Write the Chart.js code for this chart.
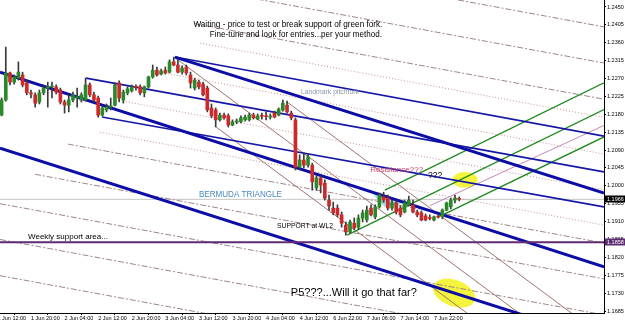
<!DOCTYPE html>
<html><head><meta charset="utf-8">
<style>html,body{margin:0;padding:0;background:#fff;overflow:hidden}canvas{display:block}</style>
<script src="https://cdn.jsdelivr.net/npm/chart.js@4/dist/chart.umd.min.js"></script>
</head><body>
<canvas id="c" width="625" height="322"></canvas>
<script>
// ---- DATA (EURUSD H1, 1 Jun - 7 Jun) ----
const xTickLabels = ['1 Jun 12:00','1 Jun 20:00','2 Jun 04:00','2 Jun 12:00','2 Jun 20:00','3 Jun 04:00','3 Jun 12:00','3 Jun 20:00','4 Jun 04:00','4 Jun 12:00','6 Jun 22:00','7 Jun 06:00','7 Jun 14:00','7 Jun 22:00'];
const xTickBars = [0,8,16,24,32,40,48,56,64,72,80,88,96,104];
const yTicks = [1.1685,1.1730,1.1775,1.1820,1.1865,1.1910,1.1955,1.2000,1.2045,1.2090,1.2135,1.2180,1.2225,1.2270,1.2315,1.2360,1.2405,1.2450];

const opens = [1.2178,1.2216,1.2284,1.2261,1.2271,1.2279,1.2259,1.2234,1.2229,1.2211,
 1.2234,1.2246,1.2249,1.2249,1.2241,1.2211,1.2203,1.2216,1.2221,1.2216,
 1.2216,1.2254,1.2229,1.2221,1.2178,1.2191,1.2198,1.2203,1.2259,1.2216,
 1.2234,1.2239,1.2249,1.2249,1.2234,1.2249,1.2274,1.2291,1.2281,1.2291,
 1.2286,1.2312,1.2304,1.2286,1.2299,1.2279,1.2246,1.2261,1.2256,1.2246,
 1.2196,1.2191,1.2166,1.2178,1.2176,1.2153,1.2161,1.2161,1.2166,1.2166,
 1.2178,1.2168,1.2176,1.2176,1.2173,1.2183,1.2178,1.2191,1.2203,1.2183,
 1.2166,1.2047,1.2065,1.2052,1.2052,1.1995,1.2020,1.2007,1.1964,1.1944,
 1.1944,1.1927,1.1901,1.1884,1.1906,1.1896,1.1919,1.1914,1.1944,1.1922,
 1.1947,1.1972,1.1969,1.1944,1.1957,1.1944,1.1934,1.1952,1.1952,1.1934,
 1.1932,1.1924,1.1919,1.1914,1.1922,1.1922,1.1939,1.1947,1.1964,1.1967];
const highs = [1.2221,1.2349,1.2286,1.2279,1.2312,1.2286,1.2266,1.2241,1.2234,1.2241,
 1.2254,1.2261,1.2261,1.2254,1.2246,1.2216,1.2229,1.2236,1.2246,1.2234,
 1.2271,1.2259,1.2236,1.2226,1.2201,1.2206,1.2221,1.2259,1.2264,1.2241,
 1.2249,1.2254,1.2254,1.2254,1.2251,1.2276,1.2304,1.2299,1.2294,1.2299,
 1.2317,1.2324,1.2317,1.2302,1.2304,1.2286,1.2271,1.2266,1.2261,1.2251,
 1.2206,1.2196,1.2183,1.2183,1.2181,1.2166,1.2168,1.2176,1.2178,1.2183,
 1.2183,1.2181,1.2183,1.2186,1.2181,1.2188,1.2196,1.2216,1.2213,1.2188,
 1.2171,1.2078,1.2083,1.2080,1.2057,1.2025,1.2025,1.2015,1.1977,1.1959,
 1.1952,1.1934,1.1909,1.1914,1.1919,1.1927,1.1939,1.1949,1.1952,1.1952,
 1.1982,1.1984,1.1977,1.1964,1.1964,1.1949,1.1964,1.1974,1.1964,1.1939,
 1.1937,1.1929,1.1927,1.1924,1.1927,1.1942,1.1959,1.1969,1.1977,1.1972];
const lows = [1.2176,1.2213,1.2254,1.2256,1.2266,1.2249,1.2229,1.2221,1.2198,1.2206,
 1.2229,1.2198,1.2221,1.2231,1.2206,1.2183,1.2186,1.2211,1.2198,1.2211,
 1.2213,1.2224,1.2211,1.2173,1.2176,1.2186,1.2191,1.2201,1.2211,1.2208,
 1.2229,1.2236,1.2241,1.2229,1.2224,1.2246,1.2271,1.2276,1.2279,1.2281,
 1.2284,1.2302,1.2284,1.2281,1.2279,1.2246,1.2241,1.2244,1.2226,1.2186,
 1.2171,1.2148,1.2163,1.2168,1.2148,1.2151,1.2156,1.2158,1.2163,1.2163,
 1.2168,1.2166,1.2168,1.2166,1.2168,1.2171,1.2176,1.2188,1.2183,1.2166,
 1.2040,1.2040,1.2045,1.2047,1.1989,1.1989,1.1982,1.1964,1.1939,1.1927,
 1.1922,1.1896,1.1876,1.1881,1.1889,1.1891,1.1909,1.1909,1.1924,1.1917,
 1.1944,1.1959,1.1939,1.1939,1.1929,1.1922,1.1932,1.1949,1.1932,1.1922,
 1.1912,1.1912,1.1914,1.1912,1.1919,1.1917,1.1937,1.1942,1.1957,1.1962];
const closes = [1.2216,1.2284,1.2261,1.2274,1.2286,1.2254,1.2234,1.2231,1.2208,1.2234,
 1.2246,1.2249,1.2251,1.2236,1.2211,1.2203,1.2216,1.2229,1.2224,1.2229,
 1.2254,1.2229,1.2216,1.2178,1.2196,1.2198,1.2201,1.2254,1.2221,1.2236,
 1.2244,1.2249,1.2248,1.2234,1.2249,1.2274,1.2291,1.2279,1.2289,1.2284,
 1.2312,1.2304,1.2286,1.2296,1.2284,1.2259,1.2266,1.2249,1.2229,1.2191,
 1.2176,1.2166,1.2178,1.2171,1.2153,1.2161,1.2163,1.2171,1.2173,1.2178,
 1.2171,1.2176,1.2175,1.2174,1.2175,1.2173,1.2193,1.2208,1.2186,1.2171,
 1.2047,1.2065,1.2052,1.2073,1.2010,1.2020,1.2002,1.1969,1.1949,1.1932,
 1.1927,1.1906,1.1884,1.1909,1.1894,1.1919,1.1932,1.1939,1.1927,1.1947,
 1.1977,1.1964,1.1944,1.1957,1.1934,1.1927,1.1957,1.1964,1.1934,1.1927,
 1.1914,1.1914,1.1918,1.1922,1.1921,1.1939,1.1957,1.1964,1.1969,1.1966];

// trend lines: [startBar, startPrice, endBar, endPrice, styleName]
const trendLines = [
 [42.3,1.2324,144.5,1.1982,'thick'],
 [0.62,1.2286,144.5,1.1796,'thick'],
 [0.62,1.2095,144.5,1.1610,'thick'],
 [42.3,1.2324,144.5,1.2125,'blue'],
 [21.1,1.2271,144.5,1.2035,'blue'],
 [24.9,1.2173,144.5,1.1947,'blue'],
 [92.3,1.1989,144.5,1.2259,'green'],
 [83.3,1.1876,144.5,1.2192,'green'],
 [106.1,1.1927,144.5,1.2123,'green'],
 [103.0,1.1950,144.5,1.2152,'mauve'],
 [42.3,1.2599,144.5,1.2400,'dashdot'],
 [42.3,1.2508,144.5,1.2309,'dashdot'],
 [47.0,1.2408,144.5,1.2218,'dashdot'],
 [16.8,1.2105,144.5,1.1856,'dashdot'],
 [8.96,1.2029,144.5,1.1766,'dashdot'],
 [0.62,1.1955,144.5,1.1675,'dashdot'],
 [0.62,1.1865,144.5,1.1584,'dashdot'],
 [0.62,1.1774,144.5,1.1494,'dashdot'],
 [48.3,1.2359,144.5,1.2172,'dotted'],
 [37.1,1.2289,144.5,1.2080,'dotted'],
 [29.9,1.2213,144.5,1.1990,'dotted'],
 [24.4,1.2135,144.5,1.1901,'dotted'],
 [42.1,1.2324,144.5,1.1521,'brown'],
 [52.1,1.2148,144.5,1.1424,'brown'],
 [69.0,1.2211,144.5,1.1619,'brown']
];
const currentPrice = 1.1966;
const weeklySupport = 1.1858;

// ---- STYLES ----
const lineStyles = {
 thick:{color:'#0c0ca6',width:3,dash:[]},
 blue:{color:'#1616a8',width:1.6,dash:[]},
 green:{color:'#1e8a1e',width:1.3,dash:[]},
 mauve:{color:'#c58ab8',width:1,dash:[]},
 dashdot:{color:'#a08585',width:1,dash:[6,2,2,2]},
 dotted:{color:'#c99090',width:1,dash:[1,2]},
 brown:{color:'#a07272',width:1,dash:[]}
};
const X_MIN = 0.62, X_MAX = 144.5, Y_MIN = 1.1680, Y_MAX = 1.24676;

const texts = [
 {t:'Waiting - price to test or break support of green fork.', x:69.2, y:1.2407, align:'center', size:9, color:'#000', w:189},
 {t:'Fine-tune and look for entries...per your method.', x:71.1, y:1.2380, align:'center', size:9, color:'#000', w:172},
 {t:'Landmark pitchfork', x:72.3, y:1.2236, align:'left', size:8, color:'#8a98aa', w:58},
 {t:'Resistance???', x:88.8, y:1.2040, align:'left', size:8, color:'#d0406a', w:58},
 {t:'???', x:102.6, y:1.2025, align:'left', size:9, color:'#000', w:14},
 {t:'BERMUDA TRIANGLE', x:48.0, y:1.1979, align:'left', size:9, color:'#4a88c0', w:83},
 {t:'SUPPORT at WL2', x:66.6, y:1.1899, align:'left', size:8, color:'#000', w:56},
 {t:'Weekly support area...', x:7.3, y:1.1871, align:'left', size:8, color:'#000', w:81},
 {t:'P5???...Will it go that far?', x:69.9, y:1.1730, align:'left', size:11, color:'#000', w:127}
];
const ellipses = [
 {x:111.4, y:1.2015, rx:2.98, ry:0.0020, rot:0},
 {x:108.8, y:1.1730, rx:5.24, ry:0.0033, rot:0.35}
];
const triangle = [[88.8,1.1987],[97.1,1.1957],[92.3,1.1947]];

// ---- BUILD ----
const bodies = [], wicks = [], bodyColors = [];
opens.forEach((o,k)=>{
  bodies.push({x:k+1, y:[o, closes[k]]});
  wicks.push({x:k+1, y:[lows[k], highs[k]]});
  bodyColors.push(closes[k] >= o ? '#2a8a2a' : '#cc2a2a');
});
const datasets = [
 {type:'bar', data:bodies, backgroundColor:bodyColors, barThickness:3, minBarLength:1, grouped:false, order:0},
 {type:'bar', data:wicks, backgroundColor:'#3a3a3a', barThickness:1, grouped:false, order:1}
];
trendLines.forEach(([x1,y1,x2,y2,s])=>{
  const st = lineStyles[s];
  datasets.push({type:'line', data:[{x:x1,y:y1},{x:x2,y:y2}], borderColor:st.color, borderWidth:st.width,
    borderDash:st.dash, pointRadius:0, fill:false, tension:0, clip:0, order:3});
});
datasets.push({type:'line', data:[{x:X_MIN,y:currentPrice},{x:X_MAX,y:currentPrice}], borderColor:'#c4c4c4', borderWidth:1, pointRadius:0, clip:0, order:4});
datasets.push({type:'line', data:[{x:X_MIN,y:weeklySupport},{x:X_MAX,y:weeklySupport}], borderColor:'#5e2b70', borderWidth:2, pointRadius:0, clip:0, order:2});

const annot = {
  id:'annot',
  beforeDatasetsDraw(chart){
    const {ctx, chartArea:a, scales:{x,y}} = chart;
    ctx.save();
    ctx.beginPath(); ctx.rect(a.left,a.top,a.width,a.height); ctx.clip();
    ctx.fillStyle = '#f4f43c';
    ellipses.forEach(e=>{
      const cx=x.getPixelForValue(e.x), cy=y.getPixelForValue(e.y);
      const rx=Math.abs(x.getPixelForValue(e.x+e.rx)-cx), ry=Math.abs(y.getPixelForValue(e.y+e.ry)-cy);
      ctx.beginPath(); ctx.ellipse(cx,cy,rx,ry,e.rot,0,Math.PI*2); ctx.fill();
    });
    ctx.fillStyle = '#a8d4ea';
    ctx.beginPath();
    triangle.forEach(([tx,ty],k)=>{ const px=x.getPixelForValue(tx), py=y.getPixelForValue(ty); k?ctx.lineTo(px,py):ctx.moveTo(px,py); });
    ctx.closePath(); ctx.fill();
    ctx.restore();
  },
  afterDatasetsDraw(chart){
    const {ctx, scales:{x,y}} = chart;
    ctx.save();
    ctx.textBaseline = 'middle';
    texts.forEach(t=>{
      ctx.font = t.size+'px "Liberation Sans", Arial, sans-serif';
      ctx.fillStyle = t.color; ctx.textAlign = t.align;
      ctx.fillText(t.t, x.getPixelForValue(t.x), y.getPixelForValue(t.y), t.w);
    });
    ctx.restore();
  },
  afterDraw(chart){
    const {ctx, chartArea:a, scales:{y}} = chart;
    ctx.save();
    ctx.font = '5.5px "Liberation Sans", Arial, sans-serif';
    ctx.textBaseline = 'middle'; ctx.textAlign = 'left';
    [[currentPrice,'#000'],[weeklySupport,'#5e2b70']].forEach(([v,c])=>{
      const py = Math.round(y.getPixelForValue(v));
      ctx.fillStyle = c; ctx.fillRect(a.right+1, py-3.5, 625-a.right-1, 7);
      ctx.fillStyle = '#fff'; ctx.fillText(v.toFixed(4), a.right+3, py+0.5);
    });
    ctx.restore();
  }
};

new Chart(document.getElementById('c'), {
  type:'bar',
  data:{datasets},
  options:{
    responsive:false, animation:false, events:[],
    layout:{padding:0},
    plugins:{legend:{display:false}, tooltip:{enabled:false}},
    scales:{
      x:{type:'linear', min:X_MIN, max:X_MAX, offset:false,
        grid:{display:true, drawOnChartArea:false, drawTicks:true, tickLength:2, color:'#000'},
        border:{display:true, color:'#000', width:1},
        ticks:{autoSkip:false, maxRotation:0, align:'start', padding:0, color:'#000',
          font:{size:5.5, family:'"Liberation Sans", Arial, sans-serif'},
          callback:(v)=>{ const k=xTickBars.indexOf(v); return k>=0?xTickLabels[k]:''; }},
        afterBuildTicks:(s)=>{ s.ticks = xTickBars.map(v=>({value:v})); },
        afterFit:(s)=>{ s.height = 9; s.paddingLeft=0; s.paddingRight=0; }
      },
      y:{type:'linear', position:'right', min:Y_MIN, max:Y_MAX,
        grid:{display:true, drawOnChartArea:false, drawTicks:true, tickLength:2, color:'#000'},
        border:{display:true, color:'#000', width:1},
        ticks:{padding:1, color:'#000', font:{size:5.5, family:'"Liberation Sans", Arial, sans-serif'},
          callback:(v)=>Number(v).toFixed(4)},
        afterBuildTicks:(s)=>{ s.ticks = yTicks.map(v=>({value:v})); },
        afterFit:(s)=>{ s.width = 21; s.paddingTop=0; s.paddingBottom=0; }
      }
    }
  },
  plugins:[annot]
});
</script>
</body></html>
